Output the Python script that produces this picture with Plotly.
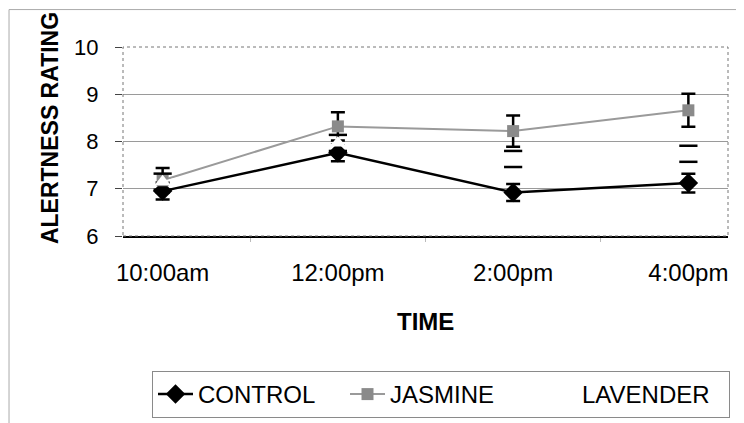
import plotly.graph_objects as go

categories = ["10:00am", "12:00pm", "2:00pm", "4:00pm"]
control = [6.95, 7.76, 6.92, 7.12]
control_err = [0.18, 0.18, 0.18, 0.20]
jasmine = [7.18, 8.32, 8.22, 8.66]
jasmine_err = [0.26, 0.30, 0.33, 0.35]
lavender = [7.15, 7.97, 7.63, 7.74]
lavender_err = [0.17, 0.17, 0.17, 0.17]
y_ticks = [6, 7, 8, 9, 10]

FONT = "Liberation Sans, Arial, sans-serif"
W, H = 736, 415  # page adds an 8px body margin

fig = go.Figure()

fig.add_trace(go.Scatter(
    x=categories, y=control, name="CONTROL", mode="lines+markers",
    line=dict(color="black", width=2.5),
    marker=dict(symbol="diamond", size=15, color="black"),
    error_y=dict(type="data", array=control_err, visible=True,
                 color="black", thickness=2.5, width=7),
))
fig.add_trace(go.Scatter(
    x=categories, y=jasmine, name="JASMINE", mode="lines+markers",
    line=dict(color="#9a9a9a", width=2),
    marker=dict(symbol="square", size=12, color="#8a8a8a"),
    error_y=dict(type="data", array=jasmine_err, visible=True,
                 color="black", thickness=2.5, width=7),
))
fig.add_trace(go.Scatter(
    x=categories, y=lavender, name="LAVENDER", mode="lines+markers",
    line=dict(color="white", width=2),
    marker=dict(symbol="triangle-up", size=14, color="white"),
))
# lavender error bar caps (stems not visible in the original)
cap_y = [v + e for v, e in zip(lavender, lavender_err)] + [v - e for v, e in zip(lavender, lavender_err)]
fig.add_trace(go.Scatter(
    x=categories + categories, y=cap_y, mode="markers", showlegend=False,
    marker=dict(symbol="line-ew", size=13, line=dict(color="black", width=2.5)),
    hoverinfo="skip",
))

fig.update_layout(
    width=W, height=H,
    margin=dict(l=115, r=16, t=39, b=187, autoexpand=False),
    paper_bgcolor="white", plot_bgcolor="white",
    font=dict(family=FONT, color="black", size=23),
    showlegend=True,
    legend=dict(
        orientation="h", xref="container", yref="container",
        x=144 / W, xanchor="left", y=1 - 363 / H, yanchor="top",
        bgcolor="white", bordercolor="#8a8a8a", borderwidth=1,
        font=dict(family=FONT, size=24, color="black"),
        itemwidth=35,
        entrywidth=142, entrywidthmode="pixels",
        tracegroupgap=0,
    ),
    xaxis=dict(
        type="category", showgrid=False, zeroline=False,
        showline=True, linecolor="black", linewidth=1.5,
        ticks="outside", tickson="boundaries", ticklen=4, tickcolor="#bbb",
        tickfont=dict(family=FONT, size=24),
        ticklabelstandoff=14, automargin=False,
    ),
    yaxis=dict(
        range=[6, 10], tickvals=y_ticks, showgrid=True, gridcolor="#9a9a9a", gridwidth=1,
        zeroline=False, showline=False,
        ticks="outside", ticklen=7, tickcolor="#444",
        tickfont=dict(family=FONT, size=22),
        ticklabelstandoff=12, automargin=False,
    ),
    annotations=[
        dict(text="ALERTNESS RATING", textangle=-90, xref="paper", yref="paper",
             x=-0.1207, y=0.571, xanchor="center", yanchor="middle", showarrow=False,
             font=dict(family=FONT, size=23, weight="bold")),
        dict(text="TIME", xref="paper", yref="paper", x=0.5, y=-0.45,
             xanchor="center", yanchor="middle", showarrow=False,
             font=dict(family=FONT, size=24, weight="bold")),
    ],
    shapes=[
        dict(type="rect", xref="paper", yref="paper", x0=0, x1=1, y0=0, y1=1,
             line=dict(color="#777", width=1, dash="dot"), layer="above"),
        dict(type="rect", xref="paper", yref="paper", x0=-0.1884, x1=1.0215, y0=-1.05, y1=1.198,
             line=dict(color="#aaa", width=1), layer="below"),
    ],
)

fig.write_html("out.html")
